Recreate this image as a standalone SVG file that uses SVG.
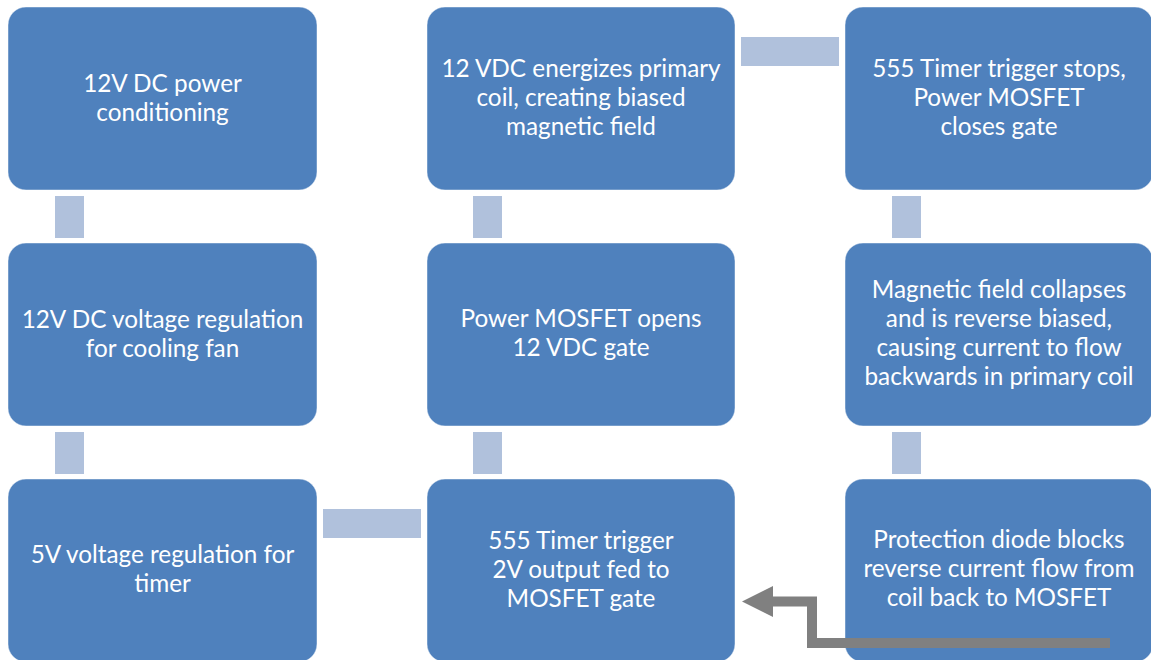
<svg xmlns="http://www.w3.org/2000/svg" width="1151" height="660" viewBox="0 0 1151 660">
<style>
.box{fill:#4F81BD;stroke:#ffffff;stroke-opacity:0.45;stroke-width:1}
.lbl{font-family:Lato,"Open Sans","Liberation Sans",sans-serif;font-size:24.3px;fill:#ffffff;text-anchor:middle}
.bar{fill:#B0C1DC}
</style>
<rect width="1151" height="660" fill="#ffffff"/>
<g id="n1"><rect class="box" x="8" y="7" width="309" height="183" rx="18"/>
<text class="lbl" x="162.5" y="92">12V DC power</text><text class="lbl" x="162.5" y="121">conditioning</text></g>
<g id="n2"><rect class="box" x="8" y="243" width="309" height="183" rx="18"/>
<text class="lbl" x="162.5" y="328">12V DC voltage regulation</text><text class="lbl" x="162.5" y="357">for cooling fan</text></g>
<g id="n3"><rect class="box" x="8" y="479" width="309" height="183" rx="18"/>
<text class="lbl" x="162.5" y="563">5V voltage regulation for</text><text class="lbl" x="162.5" y="592">timer</text></g>
<g id="n4"><rect class="box" x="427" y="479" width="308" height="183" rx="18"/>
<text class="lbl" x="581" y="549">555 Timer trigger</text><text class="lbl" x="581" y="578">2V output fed to</text><text class="lbl" x="581" y="607">MOSFET gate</text></g>
<g id="n5"><rect class="box" x="427" y="243" width="308" height="183" rx="18"/>
<text class="lbl" x="581" y="327">Power MOSFET opens</text><text class="lbl" x="581" y="356">12 VDC gate</text></g>
<g id="n6"><rect class="box" x="427" y="7" width="308" height="183" rx="18"/>
<text class="lbl" x="581" y="77">12 VDC energizes primary</text><text class="lbl" x="581" y="106">coil, creating biased</text><text class="lbl" x="581" y="135">magnetic field</text></g>
<g id="n7"><rect class="box" x="845" y="7" width="308" height="183" rx="18"/>
<text class="lbl" x="999" y="77">555 Timer trigger stops,</text><text class="lbl" x="999" y="106">Power MOSFET</text><text class="lbl" x="999" y="135">closes gate</text></g>
<g id="n8"><rect class="box" x="845" y="243" width="308" height="183" rx="18"/>
<text class="lbl" x="999" y="298">Magnetic field collapses</text><text class="lbl" x="999" y="327">and is reverse biased,</text><text class="lbl" x="999" y="356">causing current to flow</text><text class="lbl" x="999" y="385">backwards in primary coil</text></g>
<g id="n9"><rect class="box" x="845" y="479" width="308" height="183" rx="18"/>
<text class="lbl" x="999" y="548">Protection diode blocks</text><text class="lbl" x="999" y="577">reverse current flow from</text><text class="lbl" x="999" y="606">coil back to MOSFET</text></g>
<g id="connectors">
<rect class="bar" x="55" y="196" width="29" height="42"/>
<rect class="bar" x="55" y="432" width="29" height="42"/>
<rect class="bar" x="473" y="196" width="29" height="42"/>
<rect class="bar" x="473" y="432" width="29" height="42"/>
<rect class="bar" x="892" y="196" width="29" height="42"/>
<rect class="bar" x="892" y="432" width="29" height="42"/>
<rect class="bar" x="741" y="37" width="98" height="29"/>
<rect class="bar" x="323" y="509" width="98" height="29"/>
<path d="M1110,643 H812 V601.5 H770" fill="none" stroke="#808080" stroke-width="10"/>
<polygon points="773,586 742,601.5 773,617" fill="#808080"/>
</g>
</svg>
